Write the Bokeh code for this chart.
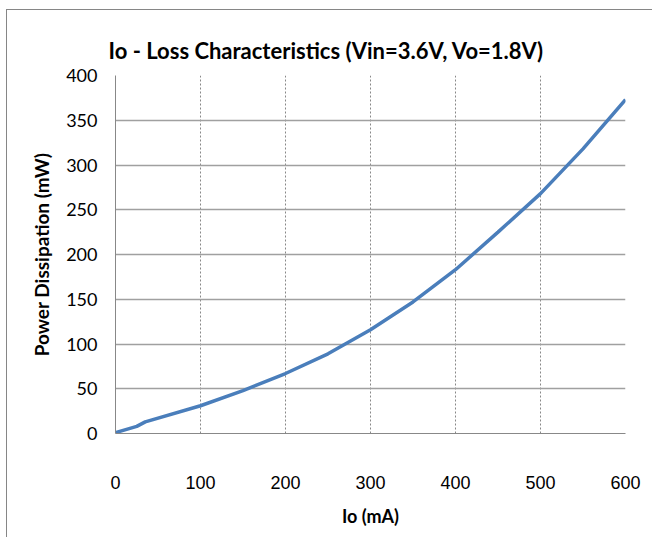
from bokeh.plotting import figure
from bokeh.models import FixedTicker, Range1d, Title
from bokeh.embed import file_html
from bokeh.resources import INLINE

# Data
io_ma = [0, 25, 35, 100, 150, 200, 250, 300, 350, 400, 450, 500, 550, 600]
loss_mw = [1, 8, 13, 31, 48, 67, 89, 116, 147, 183, 225, 268, 318, 373]
x_ticks = [0, 100, 200, 300, 400, 500, 600]
y_ticks = [0, 50, 100, 150, 200, 250, 300, 350, 400]

p = figure(width=646, height=528, output_backend="svg", toolbar_location=None,
           x_range=Range1d(0, 600), y_range=Range1d(0, 400),
           min_border_left=108, min_border_right=28, min_border_top=65,
           min_border_bottom=105)
p.styles = {"border-top": "1px solid #868686", "border-left": "1px solid #868686",
            "margin-left": "6px", "margin-top": "9px"}
p.outline_line_color = None

p.line(io_ma, loss_mw, line_color="#4a7ebb", line_width=3.5)

t = Title(text="Io - Loss Characteristics (Vin=3.6V, Vo=1.8V)", align="left",
          text_font="Lato", text_font_size="22px", text_font_style="bold",
          text_color="#000000", offset=-7, standoff=24)
p.add_layout(t, "above")

p.xaxis.ticker = FixedTicker(ticks=x_ticks)
p.yaxis.ticker = FixedTicker(ticks=y_ticks)
for ax in (p.xaxis, p.yaxis):
    ax.axis_line_color = "#888888"
    ax.axis_line_width = 1
    ax.major_tick_line_color = None
    ax.minor_tick_line_color = None
    ax.major_tick_out = 0
    ax.major_tick_in = 0
    ax.axis_label_text_font_style = "bold"
    ax.axis_label_text_color = "#000000"
    ax.major_label_text_color = "#000000"

p.xaxis.major_label_text_font = "Liberation Sans"
p.xaxis.major_label_text_font_size = "18px"
p.xaxis.major_label_standoff = 42
p.xaxis.axis_label = "Io (mA)"
p.xaxis.axis_label_text_font = "Lato"
p.xaxis.axis_label_text_font_size = "18px"
p.xaxis.axis_label_standoff = 13

p.yaxis.major_label_text_font = "Lato"
p.yaxis.major_label_text_font_size = "18px"
p.yaxis.major_label_standoff = 18
p.yaxis.axis_label = "Power Dissipation (mW)"
p.yaxis.axis_label_text_font = "Lato"
p.yaxis.axis_label_text_font_size = "19px"
p.yaxis.axis_label_standoff = 10

p.xgrid.grid_line_color = "#888888"
p.xgrid.grid_line_dash = "2 2"
p.xgrid.grid_line_width = 1
p.ygrid.grid_line_color = "#a0a0a0"
p.ygrid.grid_line_width = 1.5

open("out.html", "w").write(file_html(p, INLINE))
